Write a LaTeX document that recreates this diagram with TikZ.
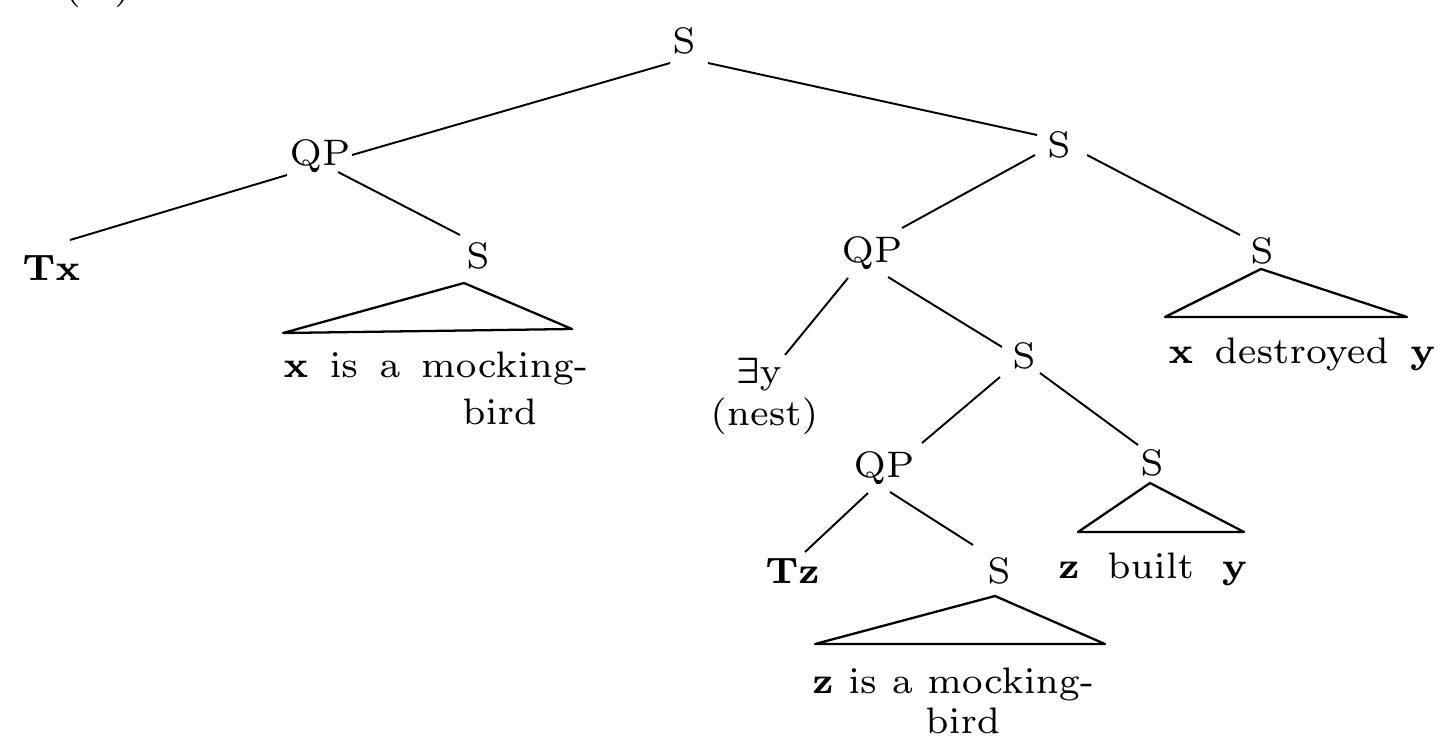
\documentclass[tikz,border=0pt]{standalone}
\usepackage{amsmath,amssymb}
\usetikzlibrary{calc}
\font\trm=cmr7 at 21pt
\font\tbf=cmbx7 at 21pt
\begin{document}
\begin{tikzpicture}[x=0.02cm,y=-0.02cm,
  lab/.style={inner sep=0pt,font=\fontsize{21}{25}\selectfont\trm},
  cat/.style={lab,anchor=base},
  txt/.style={lab,anchor=base west},
  edge/.style={line width=1.1pt},
  tri/.style={line width=1.3pt,line join=round}]
\useasboundingbox (0,0) rectangle (1446,744);
\clip (0,0) rectangle (1446,744);
\newcommand{\ws}{\hspace{0.5em}}
% example number (cut off at the top)
\node[txt] (num) at (64,-2) {(\phantom{0}\hspace{0.3em})};
% categories
\node[cat] (s0) at (684,53) {S};
\node[cat] (qp1) at (320,165) {QP};
\node[cat] (s1) at (1059,157) {S};
\node[txt] (tx) at (22,280) {{\tbf Tx}};
\node[cat] (s2) at (478,268) {S};
\node[cat] (qp2) at (872,262) {QP};
\node[cat] (s3) at (1262,263) {S};
\node[txt] (ey) at (736,383) {$\boldsymbol{\exists}$y};
\node[txt] (nest) at (710,425) {(nest)};
\node[cat] (s4) at (1024,368) {S};
\node[cat] (qp3) at (884,477) {QP};
\node[cat] (s5) at (1152,475) {S};
\node[txt] (tz) at (765,583) {{\tbf Tz}};
\node[cat] (s6) at (999,583) {S};
% terminal strings
\node[txt] (t1) at (283,377) {{\tbf x}\ws is\ws a\ws mocking-};
\node[txt] (t1b) at (462,424) {bird};
\node[txt] (t2) at (1168,363) {{\tbf x}\ws destroyed\ws {\tbf y}};
\node[txt] (t3) at (1058,578) {{\tbf z}\hspace{0.66em}built\hspace{0.66em}{\tbf y}};
\node[txt] (t4) at (812,693) {{\tbf z}\hspace{0.35em}is\hspace{0.35em}a\hspace{0.35em}mocking-};
\node[txt] (t4b) at (925,733) {bird};
% branches
\draw[edge] ($(s0.base)+(-14,10)$) -- ($(qp1.base)+(32,-10)$);
\draw[edge] ($(s0.base)+(24,10)$) -- ($(s1.base)+(-22,-22)$);
\draw[edge] ($(qp1.base)+(-33,10)$) -- ($(tx.base west)+(48,-40)$);
\draw[edge] ($(qp1.base)+(18,7)$) -- ($(s2.base)+(-18,-33)$);
\draw[edge] ($(s1.base)+(-24,-2)$) -- ($(qp2.base)+(30,-34)$);
\draw[edge] ($(s1.base)+(28,-2)$) -- ($(s3.base)+(-22,-28)$);
\draw[edge] ($(qp2.base)+(-24,16)$) -- ($(ey.base west)+(49,-28)$);
\draw[edge] ($(qp2.base)+(16,15)$) -- ($(s4.base)+(-22,-21)$);
\draw[edge] ($(s4.base)+(-24,9)$) -- ($(qp3.base)+(38,-34)$);
\draw[edge] ($(s4.base)+(16,5)$) -- ($(s5.base)+(-14,-30)$);
\draw[edge] ($(qp3.base)+(-16,16)$) -- ($(tz.base west)+(40,-31)$);
\draw[edge] ($(qp3.base)+(6,15)$) -- ($(s6.base)+(-26,-38)$);
% triangles
\coordinate (a2) at ($(s2.base)+(-14,15)$);
\coordinate (a3) at ($(s3.base)+(-1,6)$);
\coordinate (a5) at ($(s5.base)+(-2,8)$);
\coordinate (a6) at ($(s6.base)+(-4,13)$);
\draw[tri] (a2) -- ++(-181,50) -- ++(289,-4) -- cycle;
\draw[tri] (a3) -- ++(-96,48) -- ++(242,0) -- cycle;
\draw[tri] (a5) -- ++(-72,49) -- ++(166,0) -- cycle;
\draw[tri] (a6) -- ++(-180,48) -- ++(290,0) -- cycle;
\end{tikzpicture}
\end{document}
